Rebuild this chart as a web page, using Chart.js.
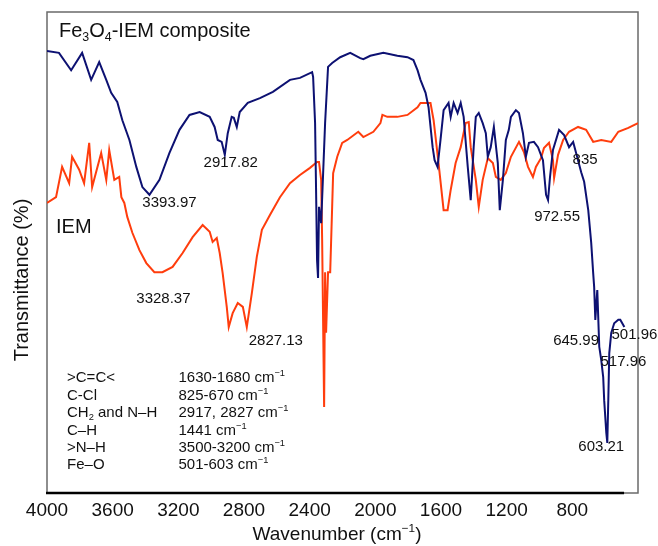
<!DOCTYPE html>
<html>
<head>
<meta charset="utf-8">
<script src="https://cdn.jsdelivr.net/npm/chart.js@4.4.0/dist/chart.umd.min.js"></script>
<style>
html,body{margin:0;padding:0;background:#fff;}
canvas{display:block;}
</style>
</head>
<body>
<canvas id="c" width="658" height="546"></canvas>
<script>
// ---- data (wavenumber cm^-1, transmittance a.u.) ----
const compositeWavenumbers = [4000,3927,3853,3786,3731,3682,3639,3609,3572,3541,
3498,3456,3419,3376,3315,3254,3193,3132,3070,3009,
2979,2960,2936,2917,2899,2875,2862,2844,2826,2777,
2703,2624,2520,2459,2385,2379,2367,2361,2355,2349,
2343,2330,2318,2306,2288,2263,2214,2153,2092,2073,
2031,1951,1866,1804,1768,1743,1725,1694,1676,1651,
1639,1621,1603,1584,1554,1541,1523,1499,1480,1462,
1437,1419,1401,1388,1370,1346,1327,1315,1297,1278,
1254,1242,1223,1205,1187,1174,1144,1125,1101,1083,
1064,1034,1009,979,960,948,936,918,881,850,
820,795,777,746,728,703,685,673,667,660,
648,636,624,612,606,593,587,581,575,563,
545,520,508,483];
const compositeTransmittance = [91.9,91.5,87.9,91.5,85.9,89.6,85.9,83.2,81.3,77.5,
73.4,67.8,63.6,62.0,65.1,70.7,75.5,78.6,79.2,78.2,
76.1,73.4,73.0,70.3,74.8,78.2,78.0,76.1,79.2,81.1,
82.1,83.4,85.9,86.3,87.5,86.5,76.9,63.0,48.4,44.7,
59.5,56.1,66.5,76.9,88.6,89.4,90.6,91.5,90.4,90.2,
90.9,91.5,90.9,90.6,90.0,87.9,85.9,83.2,80.2,71.9,
69.2,67.8,73.4,79.6,81.1,78.2,81.1,79.0,81.1,78.2,
67.8,60.9,71.9,78.2,79.0,76.9,74.8,69.9,71.9,76.1,
68.6,58.8,65.1,73.4,75.5,78.2,79.6,79.0,74.8,69.9,
72.8,73.0,71.9,69.2,62.0,60.9,65.7,71.3,75.5,74.4,
71.9,73.0,70.7,66.7,64.7,58.8,52.0,45.7,42.8,36.0,
42.2,30.4,27.7,24.1,19.3,12.5,10.4,19.3,29.1,33.3,
35.3,36.0,36.0,34.5];

const iemWavenumbers = [4000,3945,3908,3865,3847,3804,3774,3743,3725,3670,
3639,3621,3590,3560,3547,3529,3511,3480,3437,3395,
3346,3297,3235,3174,3113,3052,3009,2991,2966,2948,
2930,2905,2893,2869,2838,2807,2783,2752,2722,2691,
2642,2581,2520,2459,2398,2355,2343,2330,2324,2318,
2312,2306,2300,2288,2275,2263,2257,2232,2202,2171,
2104,2073,2012,1969,1957,1927,1866,1804,1743,1725,
1706,1664,1645,1615,1584,1560,1541,1511,1480,1450,
1431,1419,1388,1370,1346,1315,1284,1266,1236,1205,
1174,1125,1095,1070,1040,1022,991,973,942,918,
911,887,856,820,765,716,673,624,563,520,
459,400];
const iemTransmittance = [60.3,61.5,67.8,64.4,69.9,67.2,64.4,72.8,63.6,70.7,
65.1,71.3,65.1,65.7,61.5,60.3,57.4,54.1,50.5,47.8,
45.9,45.9,47.0,49.9,53.2,55.7,54.3,52.2,53.0,49.9,
45.7,38.7,34.5,37.4,39.5,38.7,34.5,41.6,49.1,54.7,
57.8,61.5,64.4,66.1,67.6,68.8,68.8,65.1,52.6,35.3,
17.9,45.9,33.3,45.9,45.9,59.5,66.5,69.9,72.8,73.4,
75.1,74.0,75.1,76.9,78.6,78.2,78.2,78.6,80.2,81.1,
81.1,81.1,77.5,68.6,58.8,58.8,63.0,68.6,71.9,76.9,
77.1,71.9,65.1,59.5,65.1,69.6,68.6,65.7,65.1,66.5,
69.9,73.0,70.9,67.8,65.7,67.8,69.6,71.7,72.8,69.2,
65.5,70.3,73.4,75.1,76.1,75.5,73.0,73.4,73.0,75.1,
75.9,76.9];

const xTickValues = [4000,3600,3200,2800,2400,2000,1600,1200,800];

const peakLabels = ['3393.97','2917.82','3328.37','2827.13','835','972.55','645.99','501.96','517.96','603.21'];
const peakLabelX = [3254,2881,3291,2606,722,893,777,422,489,624];
const peakLabelY = [60.3,68.6,40.3,31.6,69.2,57.4,31.6,32.8,27.2,9.6];

const groupNames = [
  [{t:'>C=C<'}],
  [{t:'C-Cl'}],
  [{t:'CH'},{t:'2',sub:true},{t:' and N\u2013H'}],
  [{t:'C\u2013H'}],
  [{t:'>N\u2013H'}],
  [{t:'Fe\u2013O'}]
];
const groupRanges = ['1630-1680','825-670','2917, 2827','1441','3500-3200','501-603'];

// ---- styling ----
const FONT = '"Liberation Sans", Arial, Helvetica, sans-serif';
const BLUE = '#0d1172';
const RED = '#ff3d0d';

function toPoints(xs, ys){ return xs.map((x,i)=>({x:x,y:ys[i]})); }

function drawRich(ctx, parts, x, y, size, align){
  const small = size*0.62;
  let w = 0;
  parts.forEach(p=>{
    ctx.font = ((p.sub||p.sup)?small:size) + 'px ' + FONT;
    p._w = ctx.measureText(p.t).width; w += p._w;
  });
  let cx = align==='center' ? x - w/2 : x;
  ctx.textAlign = 'left'; ctx.textBaseline = 'middle';
  parts.forEach(p=>{
    ctx.font = ((p.sub||p.sup)?small:size) + 'px ' + FONT;
    let dy = p.sub ? size*0.3 : (p.sup ? -size*0.32 : 0);
    ctx.fillText(p.t, cx, y+dy);
    cx += p._w;
  });
}

const framePlugin = {
  id:'frame',
  beforeDatasetsDraw(chart){
    const {ctx, chartArea:a, scales} = chart;
    ctx.save();
    ctx.strokeStyle = '#6a6a6a'; ctx.lineWidth = 1.5;
    ctx.strokeRect(a.left, a.top, a.right-a.left, a.bottom-a.top);
    ctx.strokeStyle = '#000'; ctx.lineWidth = 2.5;
    ctx.beginPath();
    ctx.moveTo(a.left-1, a.bottom);
    ctx.lineTo(scales.x.getPixelForValue(485), a.bottom);
    ctx.stroke();
    ctx.restore();
  }
};

const textPlugin = {
  id:'texts',
  afterDraw(chart){
    const {ctx, chartArea:a, scales} = chart;
    const X = v=>scales.x.getPixelForValue(v), Y = v=>scales.y.getPixelForValue(v);
    ctx.save();
    ctx.fillStyle = '#111';
    drawRich(ctx,[{t:'Fe'},{t:'3',sub:true},{t:'O'},{t:'4',sub:true},{t:'-IEM composite'}], X(3927), Y(96.0), 20, 'left');
    drawRich(ctx,[{t:'IEM'}], X(3945), Y(55.3), 20, 'left');
    peakLabels.forEach((s,i)=>drawRich(ctx,[{t:s}], X(peakLabelX[i]), Y(peakLabelY[i]), 15, 'center'));
    const rowsY = [23.9,20.2,16.6,12.9,9.4,5.8];
    groupNames.forEach((parts,i)=>{
      drawRich(ctx, parts, X(3878), Y(rowsY[i]), 15, 'left');
      drawRich(ctx, [{t:groupRanges[i]+' cm'},{t:'\u22121',sup:true}], X(3199), Y(rowsY[i]), 15, 'left');
    });
    drawRich(ctx,[{t:'Wavenumber (cm'},{t:'\u22121',sup:true},{t:')'}], 337, 535, 19, 'center');
    ctx.translate(22, 280);
    ctx.rotate(-Math.PI/2);
    drawRich(ctx,[{t:'Transmittance (%)'}], 0, 0, 20, 'center');
    ctx.restore();
  }
};

new Chart(document.getElementById('c'), {
  type:'line',
  data:{
    datasets:[
      {label:'Fe3O4-IEM composite', data:toPoints(compositeWavenumbers, compositeTransmittance),
       borderColor:BLUE, borderWidth:2, pointRadius:0, tension:0, fill:false},
      {label:'IEM', data:toPoints(iemWavenumbers, iemTransmittance),
       borderColor:RED, borderWidth:2, pointRadius:0, tension:0, fill:false}
    ]
  },
  options:{
    responsive:false, animation:false, devicePixelRatio:1,
    layout:{padding:{left:47, top:12, right:20, bottom:0}},
    plugins:{legend:{display:false}, tooltip:{enabled:false}},
    scales:{
      x:{type:'linear', reverse:true, min:400, max:4000,
         grid:{display:false, drawTicks:false}, border:{display:false},
         afterBuildTicks:(s)=>{ s.ticks = xTickValues.map(v=>({value:v})); },
         afterFit:(s)=>{ s.height = 53; },
         ticks:{font:{family:FONT, size:19}, color:'#111', padding:6, maxRotation:0, autoSkip:false,
                callback:(v)=>String(v)}},
      y:{type:'linear', min:0, max:100, display:false}
    }
  },
  plugins:[framePlugin, textPlugin]
});
</script>
</body>
</html>
